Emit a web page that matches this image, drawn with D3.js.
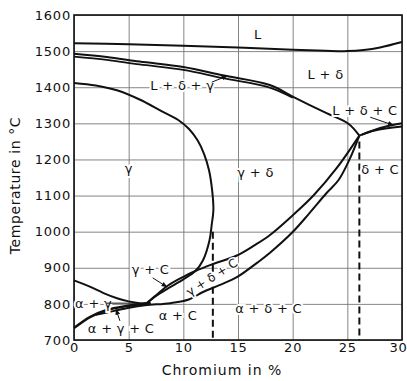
<!DOCTYPE html>
<html>
<head>
<meta charset="utf-8">
<script src="https://cdn.jsdelivr.net/npm/d3@7"></script>
<style>
  body { margin: 0; background: #fff; }
  text { font-family: "DejaVu Sans", sans-serif; }
</style>
</head>
<body>
<svg id="chart" width="407" height="381"></svg>
<script>
// tick values
const crTicks = [0, 5, 10, 15, 20, 25, 30];
const tempTicks = [700, 800, 900, 1000, 1100, 1200, 1300, 1400, 1500, 1600];

// phase boundaries, [Cr %, T °C]
const liquidus = [[0,1522],[5,1519],[10,1515],[15,1510],[20,1504],[23,1501],[25,1500],[26.5,1503],[28,1510],[30,1525]];
const solidusUpper = [[0,1493],[3,1484],[6,1471],[10,1456],[13.6,1433],[17.9,1406],[20,1374],[23.1,1328],[25.1,1299],[26.1,1266]];
const solidusLower = [[0,1485],[3,1476],[6,1463],[10,1448],[13.6,1425],[17.9,1399],[20,1371]];
const gammaLoop = [[0,1412],[2,1405],[4,1391],[6,1366],[8,1334],[9.5,1310],[10.5,1285],[11.3,1253],[11.9,1215],[12.35,1170],[12.65,1110],[12.75,1060],[12.6,1020],[12.4,977],[11.8,921],[11.1,891],[10,868],[8.6,843],[7.5,822],[6.8,805]];
const alphaGammaTop = [[0,865],[1.5,847],[2.7,830],[4,815],[5,807],[6,802],[7,801]];
const alphaGammaLow = [[0,733],[1.5,764],[3,783],[4.8,794],[6.3,800],[7,802]];
const carbideUpper = [[6.6,801],[7.5,824],[8.6,851],[10,875],[11.1,891],[12.5,908],[14.9,934],[16.5,962],[17.9,990],[20,1045],[21.9,1100],[24,1175],[26.1,1266]];
const carbideLower = [[2,770],[3,776],[4.8,788],[6.5,796],[8.8,802],[10.5,812],[11.8,833],[13.3,852],[14.9,874],[16.8,915],[17.9,941],[20,999],[21.5,1050],[23.1,1107],[24.2,1143],[25.2,1200],[26.1,1266]];
const liqCarbideA = [[26.1,1266],[27.5,1280],[30,1291]];
const liqCarbideB = [[26.3,1268],[28,1287],[30,1300]];

// dashed verticals
const dashCr = [12.7, 26.1];
const dashTop = [1000, 1250];

// region labels
const labelText = ["L", "L + δ", "L + δ + γ", "L + δ + C", "γ", "γ + δ", "δ + C", "γ + C", "α + γ", "α + γ + C", "α + C", "α + δ + C"];
const labelCr = [16.8, 23, 9.9, 26.6, 5, 16.6, 28, 7, 0.1, 4.3, 9.5, 17.8];
const labelT = [1545, 1434, 1406, 1336, 1176, 1165, 1171, 894, 802, 733, 769, 786];

// leaders [fromCr, fromT, toCr, toT]
const leaders = [[12.6,1414,14,1431],[27.1,1317,29.2,1295],[7.2,872,8.5,847],[3.0,802,5.6,802],[4.2,753,3.85,785]];

const svg = d3.select("#chart");
const margin = { top: 15, right: 5, bottom: 41, left: 74 };
const width = 407, height = 381;

const x = d3.scaleLinear().domain([0, 30]).range([margin.left, width - margin.right]);
const y = d3.scaleLinear().domain([700, 1600]).range([height - margin.bottom, margin.top]);

// grid + tick labels
const yAxis = svg.append("g")
    .attr("transform", `translate(${margin.left},0)`)
    .call(d3.axisLeft(y).tickValues(tempTicks).tickFormat(d3.format("d"))
        .tickSize(-(x(30) - x(0))).tickPadding(3));
yAxis.select(".domain").remove();
yAxis.selectAll("line").attr("stroke", "#777").attr("stroke-width", 0.9);
yAxis.selectAll("text").attr("font-size", 13).attr("letter-spacing", 0.8).attr("fill", "#111")
    .attr("font-family", "DejaVu Sans");

const xAxis = svg.append("g")
    .attr("transform", `translate(0,${y(700)})`)
    .call(d3.axisBottom(x).tickValues(crTicks).tickFormat(d3.format("d"))
        .tickSize(-(y(700) - y(1600))).tickPadding(3));
xAxis.select(".domain").remove();
xAxis.selectAll("line").attr("stroke", "#777").attr("stroke-width", 0.9);
xAxis.selectAll("text").attr("font-size", 13).attr("letter-spacing", 0.8).attr("fill", "#111")
    .attr("font-family", "DejaVu Sans");
// keep the last label inside the window
xAxis.selectAll("text").filter(d => d === 30).attr("dx", -4);

// frame
svg.append("rect")
    .attr("x", x(0)).attr("y", y(1600))
    .attr("width", x(30) - x(0)).attr("height", y(700) - y(1600))
    .attr("fill", "none").attr("stroke", "#111").attr("stroke-width", 1.6);

// axis titles
svg.append("text")
    .attr("transform", `translate(20,${(y(700) + y(1600)) / 2 + 8}) rotate(-90)`)
    .attr("text-anchor", "middle")
    .attr("font-size", 14).attr("letter-spacing", 0.6).attr("fill", "#111")
    .text("Temperature in °C");

svg.append("text")
    .attr("x", 222).attr("y", 375)
    .attr("text-anchor", "middle")
    .attr("font-size", 14).attr("letter-spacing", 1).attr("fill", "#111")
    .text("Chromium in %");

// curves
const line = d3.line()
    .x(d => x(d[0]))
    .y(d => y(d[1]))
    .curve(d3.curveCatmullRom.alpha(0.5));

const curves = [liquidus, solidusUpper, solidusLower, gammaLoop, alphaGammaTop, alphaGammaLow,
    carbideUpper, carbideLower, liqCarbideA, liqCarbideB];
const curveWidth = [2, 2, 1.8, 2, 2, 2.6, 2, 2, 2, 2];

svg.append("g")
    .selectAll("path")
    .data(curves)
    .join("path")
    .attr("d", line)
    .attr("fill", "none")
    .attr("stroke", "#111")
    .attr("stroke-width", (d, i) => curveWidth[i]);

// dashed verticals
svg.append("g")
    .selectAll("line")
    .data(dashCr)
    .join("line")
    .attr("x1", d => x(d)).attr("x2", d => x(d))
    .attr("y1", (d, i) => y(dashTop[i])).attr("y2", y(700))
    .attr("stroke", "#111").attr("stroke-width", 2)
    .attr("stroke-dasharray", "7,4");

// labels: white halo copy first, then the text itself
function drawLabels(halo) {
    svg.append("g")
        .selectAll("text")
        .data(labelText)
        .join("text")
        .attr("x", (d, i) => x(labelCr[i]))
        .attr("y", (d, i) => y(labelT[i]))
        .attr("dy", "0.35em")
        .attr("text-anchor", (d, i) => i === 8 ? "start" : "middle")
        .attr("font-size", 13).attr("letter-spacing", 0.3)
        .attr("fill", halo ? "#fff" : "#111")
        .attr("stroke", halo ? "#fff" : "none")
        .attr("stroke-width", halo ? 4 : 0)
        .text(d => d);

    svg.append("text")
        .attr("transform", `translate(${x(12.6)},${y(874)}) rotate(-33)`)
        .attr("dy", "0.35em")
        .attr("text-anchor", "middle")
        .attr("font-size", 12)
        .attr("fill", halo ? "#fff" : "#111")
        .attr("stroke", halo ? "#fff" : "none")
        .attr("stroke-width", halo ? 3 : 0)
        .text("γ + δ + C");
}
drawLabels(true);
drawLabels(false);

// leader lines with arrowheads
svg.append("defs").append("marker")
    .attr("id", "arrow")
    .attr("viewBox", "0 0 10 10")
    .attr("refX", 9).attr("refY", 5)
    .attr("markerWidth", 6).attr("markerHeight", 6)
    .attr("orient", "auto")
    .append("path")
    .attr("d", "M0,1L10,5L0,9Z")
    .attr("fill", "#111");

svg.append("g")
    .selectAll("line")
    .data(leaders)
    .join("line")
    .attr("x1", d => x(d[0])).attr("y1", d => y(d[1]))
    .attr("x2", d => x(d[2])).attr("y2", d => y(d[3]))
    .attr("stroke", "#111").attr("stroke-width", 1)
    .attr("marker-end", (d, i) => i === 3 ? null : "url(#arrow)");
</script>
</body>
</html>
